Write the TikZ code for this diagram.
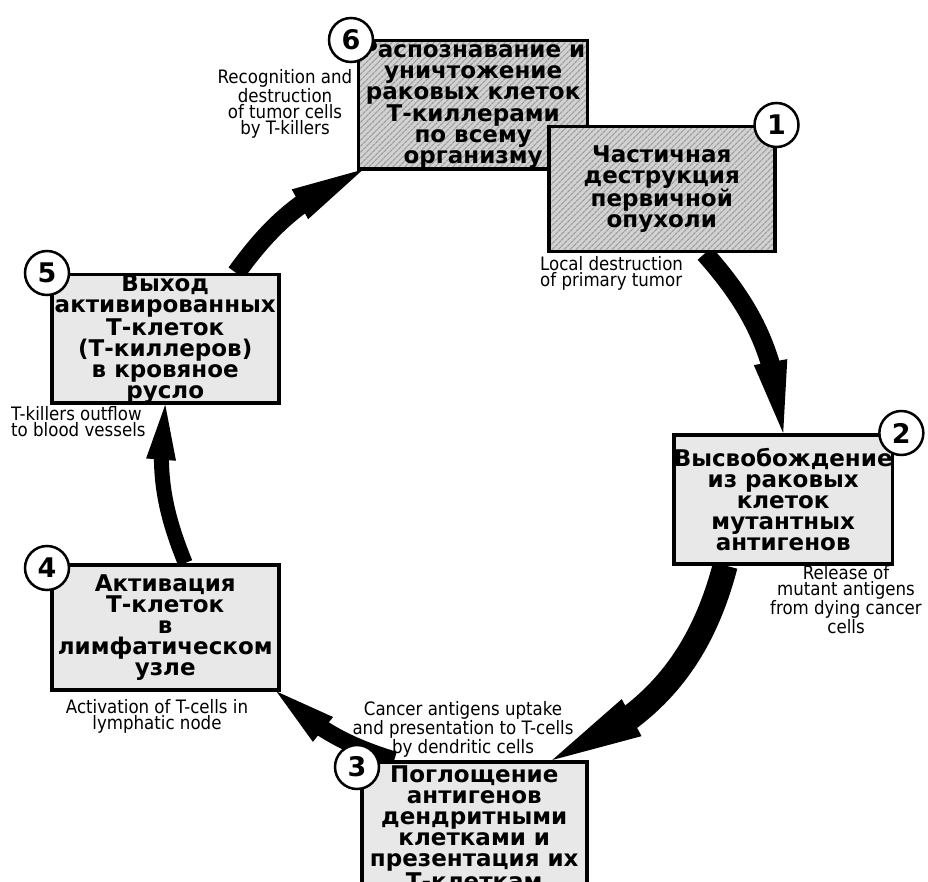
\documentclass[tikz,border=0pt]{standalone}
\usepackage{fontspec}
\setmainfont{DejaVu Sans}
\newfontfamily\notefamily{DejaVu Sans Condensed}
\usetikzlibrary{arrows.meta,bending,patterns.meta,backgrounds}
\tikzstyle{stage}=[rectangle,
	line width=3.5pt,
	draw=black,
	fill=gray!18,
	inner sep=0pt,
	align=center,
	font=\fontsize{23}{21}\selectfont\bfseries]
\tikzstyle{hatched}=[rectangle,
	line width=3.5pt,
	draw=black,
	preaction={fill=gray!35},
	pattern={Lines[angle=45,distance=4pt,line width=1.3pt]},
	pattern color=gray!75,
	inner sep=0pt,
	align=center,
	font=\fontsize{23}{21}\selectfont\bfseries]
\tikzstyle{badge}=[circle,
	line width=2.5pt,
	draw=black,
	fill=white,
	minimum size=44pt,
	inner sep=0pt,
	font=\fontsize{27}{27}\selectfont\bfseries]
\tikzstyle{note}=[inner sep=0pt,
	align=center,
	font=\notefamily\fontsize{18.5}{16}\selectfont]
\tikzstyle{flow}=[line width=19pt,
	-{Triangle[length=72pt,width=34pt,line width=0pt]}]

\begin{document}
\begin{tikzpicture}[x=1pt,y=1pt]
	\clip (0,0) rectangle (928,-882);

	\node (recognition) [hatched, minimum width=229pt, minimum height=125pt, anchor=north west] at (358,-40) {Распознавание и\\уничтожение\\раковых клеток\\Т-киллерами\\по всему\\организму};
	\node (n6) [badge] at ([xshift=-7pt]recognition.north west) {6};
	\node (recognitionnote) [note] at (285,-104) {Recognition and\\destruction\\of tumor cells\\by T-killers};

	\node (tumor) [hatched, minimum width=226pt, minimum height=125pt, anchor=north west] at (547,-125) {Частичная\\деструкция\\первичной\\опухоли};
	\node (n1) [badge] at (tumor.north east) {1};
	\node (tumornote) [note, align=left, anchor=north west] at (540,-256) {Local destruction\\of primary tumor};

	\node (release) [stage, minimum width=218pt, minimum height=129pt, anchor=north west] at (672,-433) {Высвобождение\\из раковых\\клеток\\мутантных\\антигенов};
	\node (n2) [badge] at ([xshift=7pt]release.north east) {2};
	\node (releasenote) [note] at (846,-600) {Release of\\mutant antigens\\from dying cancer\\cells};

	\node (uptake) [stage, minimum width=225pt, minimum height=132pt, anchor=north west] at (360,-760) {Поглощение\\антигенов\\дендритными\\клетками и\\презентация их\\Т-клеткам};
	\node (n3) [badge] at ([xshift=-3pt,yshift=-7pt]uptake.north west) {3};
	\node (uptakenote) [note] at (463,-729) {Cancer antigens uptake\\and presentation to T-cells\\by dendritic cells};

	\node (activation) [stage, minimum width=227pt, minimum height=125pt, anchor=north west] at (50,-563) {Активация\\Т-клеток\\в\\лимфатическом\\узле};
	\node (n4) [badge] at ([xshift=-3pt,yshift=-5pt]activation.north west) {4};
	\node (activationnote) [note] at (157,-716) {Activation of T-cells in\\lymphatic node};

	\node (outflow) [stage, minimum width=227pt, minimum height=125pt, anchor=north west] at (50,-273) {Выход\\активированных\\Т-клеток\\(Т-киллеров)\\в кровяное\\русло};
	\node (n5) [badge] at ([xshift=-3pt]outflow.north west) {5};
	\node (outflownote) [note, align=left, anchor=north west] at (11,-406) {T-killers outflow\\to blood vessels};

	\begin{scope}[on background layer]
		\draw[flow] ([xshift=71pt]outflow.north) to[bend left=15] ([xshift=5pt]recognition.south west);
		\draw[flow] ([xshift=43pt]tumor.south) to[bend left=18] (release.north);
		\draw[flow, line width=25pt, -{Triangle[length=90pt,width=42pt,line width=0pt]}] ([xshift=-58pt]release.south) to[bend left=27] ([xshift=78pt]uptake.north);
		\draw[flow, line width=17pt, -{Triangle[length=60pt,width=32pt,line width=0pt]}] ([xshift=-80pt]uptake.north) to[bend left=13] ([xshift=-4pt]activation.south east);
		\draw[flow, line width=15pt, -{Triangle[length=55pt,width=30pt,line width=0pt]}] ([xshift=20pt]activation.north) to[bend left=15] (outflow.south);
	\end{scope}
\end{tikzpicture}
\end{document}
